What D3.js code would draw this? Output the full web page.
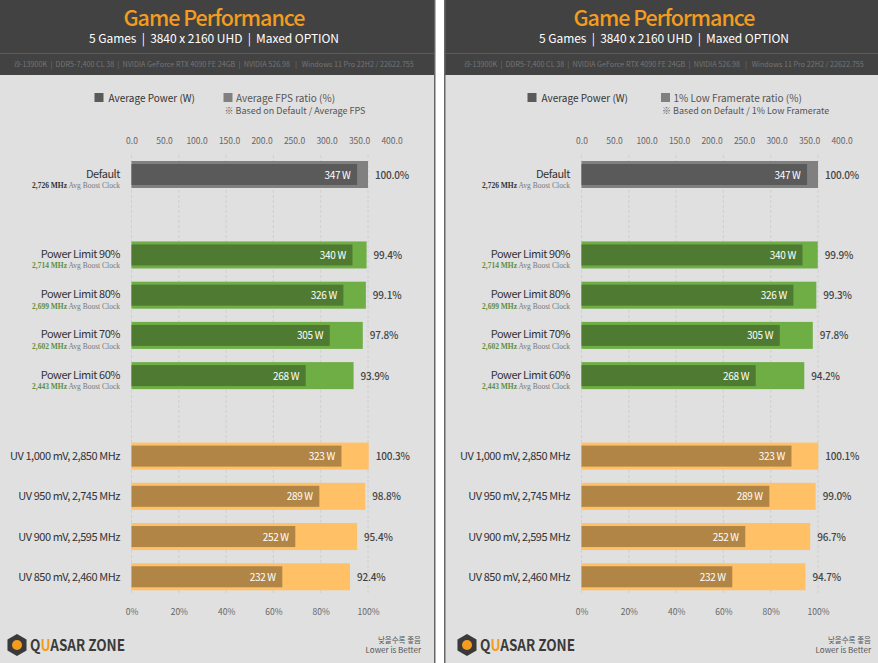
<!DOCTYPE html>
<html>
<head>
<meta charset="utf-8">
<script src="https://cdn.jsdelivr.net/npm/d3@7"></script>
<style>
  html, body { margin: 0; padding: 0; background: #fff; }
  svg { display: block; }
  text { font-family: "Noto Sans CJK KR", "Noto Sans", sans-serif; }
</style>
</head>
<body>
<div id="chart"></div>
<script>
// donnees
const labels = ['Default', 'Power Limit 90%', 'Power Limit 80%', 'Power Limit 70%', 'Power Limit 60%',
  'UV 1,000 mV, 2,850 MHz', 'UV 950 mV, 2,745 MHz', 'UV 900 mV, 2,595 MHz', 'UV 850 mV, 2,460 MHz'];
const clocks = ['2,726 MHz', '2,714 MHz', '2,699 MHz', '2,602 MHz', '2,443 MHz', null, null, null, null];
const groups = ['base', 'limit', 'limit', 'limit', 'limit', 'uv', 'uv', 'uv', 'uv'];
const power = [347, 340, 326, 305, 268, 323, 289, 252, 232];
const fpsRatio = [100.0, 99.4, 99.1, 97.8, 93.9, 100.3, 98.8, 95.4, 92.4];
const lowRatio = [100.0, 99.9, 99.3, 97.8, 94.2, 100.1, 99.0, 96.7, 94.7];
const powerTicks = [0, 50, 100, 150, 200, 250, 300, 350, 400];
const ratioTicks = [0, 20, 40, 60, 80, 100];
const specLine = 'i9-13900K  |  DDR5-7,400 CL 38  |  NVIDIA GeForce RTX 4090 FE 24GB  |  NVIDIA 526.98   |   Windows 11 Pro 22H2 / 22622.755';

const colors = {
  base: { outer: '#808080', inner: '#5a5a5a', clock: '#333' },
  limit: { outer: '#6fae45', inner: '#4e7a32', clock: '#5f8f40' },
  uv: { outer: '#ffc066', inner: '#b08545', clock: '#333' }
};

const svg = d3.select('#chart').append('svg').attr('width', 878).attr('height', 663);

// lignes du graphique, les groupes sont separes par un vide
const rowY = d3.scalePoint()
  .domain(d3.range(12))
  .range([174.5, 617]);
const rowIndex = [0, 2, 3, 4, 5, 7, 8, 9, 10];

function drawPanel(x0, panelW, ratios, legendRatio, legendNote, legendX, shift) {
  const g = svg.append('g').attr('transform', `translate(${x0},0)`);
  const px = x0 === 0 ? 0 : 6;

  g.append('rect').attr('x', -px).attr('width', panelW).attr('height', 663).attr('fill', '#e0e0e0');
  g.append('rect').attr('x', -px).attr('width', panelW).attr('height', 75).attr('fill', '#424242');
  g.append('rect').attr('x', -px).attr('y', 53).attr('width', panelW).attr('height', 1).attr('fill', '#5a5a5a');
  if (x0 === 0) {
    g.append('rect').attr('x', panelW).attr('width', 1.5).attr('height', 663).attr('fill', '#666');
  } else {
    g.append('rect').attr('x', -px).attr('width', 1.5).attr('height', 663).attr('fill', '#666');
  }

  g.append('text').attr('x', 214).attr('y', 26).attr('text-anchor', 'middle')
    .attr('font-size', 21.5).attr('font-weight', 500).attr('letter-spacing', -1)
    .attr('fill', '#f39c1f').text('Game Performance');
  g.append('text').attr('x', 214).attr('y', 43).attr('text-anchor', 'middle')
    .attr('font-size', 12).attr('fill', '#fff').attr('letter-spacing', -0.05).attr('xml:space', 'preserve')
    .text('5 Games  |  3840 x 2160 UHD  |  Maxed OPTION');
  g.append('text').attr('x', 214).attr('y', 67).attr('text-anchor', 'middle')
    .attr('font-size', 7.2).attr('fill', '#757575').attr('xml:space', 'preserve')
    .text(specLine);

  // legende
  g.append('rect').attr('x', legendX).attr('y', 93).attr('width', 9).attr('height', 9).attr('fill', '#5a5a5a');
  g.append('text').attr('x', legendX + 14).attr('y', 101.5).attr('font-size', 10).attr('fill', '#333').text('Average Power (W)');
  g.append('rect').attr('x', legendX + 129 + shift).attr('y', 93).attr('width', 9).attr('height', 9).attr('fill', '#808080');
  g.append('text').attr('x', legendX + 141.5 + shift).attr('y', 101.5).attr('font-size', 10).attr('fill', '#555').text(legendRatio);
  g.append('text').attr('x', legendX + 130 + shift).attr('y', 113.5).attr('font-size', 9).attr('fill', '#555').text('※ Based on Default / ' + legendNote);

  const xPower = d3.scaleLinear().domain([0, 400]).range([131.5, 391.5]);
  const xRatio = d3.scaleLinear().domain([0, 100]).range([131.5, 368]);

  // grille pointillee
  g.selectAll('line.grid').data(ratioTicks).join('line')
    .attr('class', 'grid')
    .attr('x1', d => xRatio(d)).attr('x2', d => xRatio(d))
    .attr('y1', 155).attr('y2', 595)
    .attr('stroke', '#cccccc').attr('stroke-width', 0.8).attr('stroke-dasharray', '3,2');

  const axisTop = g.append('g').attr('transform', 'translate(0,147)')
    .call(d3.axisTop(xPower).tickValues(powerTicks).tickSize(0).tickFormat(d3.format('.1f')));
  const axisBottom = g.append('g').attr('transform', 'translate(0,605.5)')
    .call(d3.axisBottom(xRatio).tickValues(ratioTicks).tickSize(0).tickFormat(d => d + '%'));
  [axisTop, axisBottom].forEach(a => {
    a.select('.domain').remove();
    a.selectAll('text').attr('font-family', '"Noto Sans CJK KR", sans-serif').attr('font-size', 8.5).attr('fill', '#666');
  });

  const rows = g.selectAll('g.row').data(labels).join('g')
    .attr('class', 'row')
    .attr('transform', (d, i) => `translate(0,${rowY(rowIndex[i])})`);

  rows.append('rect').attr('x', xRatio(0)).attr('y', -13.5)
    .attr('width', (d, i) => xRatio(ratios[i]) - xRatio(0)).attr('height', 27)
    .attr('fill', (d, i) => colors[groups[i]].outer);
  rows.append('rect').attr('x', xPower(0)).attr('y', -10.5)
    .attr('width', (d, i) => xPower(power[i]) - xPower(0)).attr('height', 21)
    .attr('fill', (d, i) => colors[groups[i]].inner);
  rows.append('text').attr('x', (d, i) => xPower(power[i]) - 6.5).attr('y', 4)
    .attr('text-anchor', 'end').attr('font-size', 10).attr('letter-spacing', -0.3).attr('fill', '#fff')
    .text((d, i) => power[i] + ' W');
  rows.append('text').attr('x', (d, i) => xRatio(ratios[i]) + 7).attr('y', 4)
    .attr('font-size', 10).attr('font-weight', 500).attr('letter-spacing', -0.2).attr('fill', '#444')
    .text((d, i) => ratios[i].toFixed(1) + '%');

  rows.append('text').attr('x', 120).attr('y', (d, i) => clocks[i] ? 3 : 4)
    .attr('text-anchor', 'end').attr('font-size', 11).attr('letter-spacing', -0.45).attr('fill', '#333').text(d => d);
  const clock = rows.filter((d, i) => clocks[i]).append('text')
    .attr('x', 120).attr('y', 13.5).attr('text-anchor', 'end')
    .attr('font-size', 7.5).style('font-family', '"Liberation Serif", serif');
  clock.append('tspan').attr('font-weight', 700)
    .attr('fill', d => colors[groups[labels.indexOf(d)]].clock)
    .text(d => clocks[labels.indexOf(d)]);
  clock.append('tspan').attr('fill', '#777').text(' Avg Boost Clock');

  // logo
  const hex = d3.range(6).map(k => {
    const a = Math.PI / 3 * k + Math.PI / 6;
    return [17 + 11 * Math.cos(a), 645 + 11 * Math.sin(a)];
  });
  g.append('polygon').attr('points', hex.join(' ')).attr('fill', '#3a3a3a');
  g.append('circle').attr('cx', 17).attr('cy', 645).attr('r', 5).attr('fill', '#f39c1f');
  const logo = g.append('text').attr('x', 30).attr('y', 651).attr('font-size', 15.5)
    .attr('font-weight', 700).attr('fill', '#3a3a3a')
    .attr('textLength', 95).attr('lengthAdjust', 'spacingAndGlyphs');
  logo.append('tspan').text('Q');
  logo.append('tspan').attr('fill', '#f39c1f').text('U');
  logo.append('tspan').text('ASAR ZONE');

  g.append('text').attr('x', 421).attr('y', 642.5).attr('text-anchor', 'end').attr('font-size', 7.5)
    .attr('fill', '#555').text('낮을수록 좋음');
  g.append('text').attr('x', 421).attr('y', 652.5).attr('text-anchor', 'end').attr('font-size', 8)
    .attr('fill', '#555').text('Lower is Better');
}

drawPanel(0, 434, fpsRatio, 'Average FPS ratio (%)', 'Average FPS', 94.5, 0);
drawPanel(450, 434, lowRatio, '1% Low Framerate ratio (%)', '1% Low Framerate', 77.5, 4.5);
</script>
</body>
</html>
